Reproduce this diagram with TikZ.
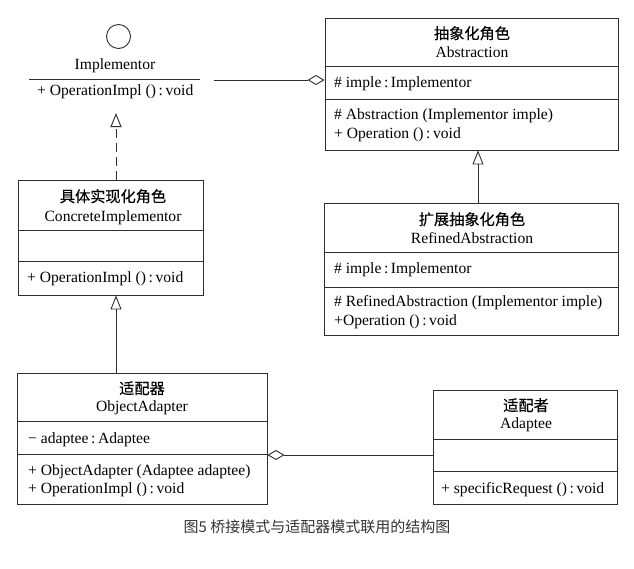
\documentclass[tikz,border=0pt]{standalone}
\usepackage{fontspec}
\setmainfont{Liberation Serif}
\newfontfamily\cjk[FakeBold=0.3]{Noto Sans CJK SC}
\newfontfamily\cjkcap{Noto Sans CJK SC}
\usetikzlibrary{positioning, arrows.meta}
\definecolor{uml-line}{rgb}{0.18, 0.18, 0.18}

\begin{document}
\begin{tikzpicture}[x=1pt, y=-1pt]
				\tikzset{cls/.style={rectangle, draw=uml-line, line width=0.9pt, inner sep=0pt}}
				\tikzset{lbl/.style={inner sep=0pt, text height=11pt, text depth=3pt, font=\fontsize{15.6}{18}\selectfont}}
				\tikzset{zh/.style={lbl, font=\fontsize{15.2}{18}\selectfont\cjk}}
				\tikzset{sep/.style={draw=uml-line, line width=0.9pt}}
				\tikzset{inherit/.style={-{Triangle[open, length=14pt, width=11pt]}, draw=uml-line, line width=0.9pt}}
				\tikzset{realize/.style={inherit, dash pattern=on 9pt off 5pt}}
				\tikzset{aggr/.style={-{Diamond[open, length=17pt, width=10pt]}, draw=uml-line, line width=0.9pt}}
				\useasboundingbox (0,0) rectangle (634,568);
				% interface
				\node[circle, draw=uml-line, line width=0.9pt, minimum size=24pt] (iface) at (118.5,36.5) {};
				\node[lbl] (implName) at (115,65) {Implementor};
				\coordinate (implLeft) at (29,79);
				\coordinate (implRight) at (200,79);
				\draw[sep] (implLeft) -- (implRight);
				\node[lbl, anchor=west] (implOp) at (37,91) {+ OperationImpl ()\,:\,void};
				% Abstraction
				\node[cls, minimum width=293pt, minimum height=132pt] (abstraction) at (471.5,84) {};
				\draw[sep] ([yshift=-49pt]abstraction.north west) -- ([yshift=-49pt]abstraction.north east);
				\draw[sep] ([yshift=-82pt]abstraction.north west) -- ([yshift=-82pt]abstraction.north east);
				\node[zh] (absZh) at (472,35) {抽象化角色};
				\node[lbl] (absEn) at (472,53) {Abstraction};
				\node[lbl, anchor=west] (absAttr) at (334,83) {\# imple\,:\,Implementor};
				\node[lbl, anchor=west] (absOp1) at (334,115) {\# Abstraction (Implementor imple)};
				\node[lbl, anchor=west] (absOp2) at (334,134) {+ Operation ()\,:\,void};
				% RefinedAbstraction
				\node[cls, minimum width=294pt, minimum height=132pt] (refined) at (471,269) {};
				\draw[sep] ([yshift=-50pt]refined.north west) -- ([yshift=-50pt]refined.north east);
				\draw[sep] ([yshift=-85pt]refined.north west) -- ([yshift=-85pt]refined.north east);
				\node[zh] (refZh) at (472,221) {扩展抽象化角色};
				\node[lbl] (refEn) at (472,239) {RefinedAbstraction};
				\node[lbl, anchor=west] (refAttr) at (334,269) {\# imple\,:\,Implementor};
				\node[lbl, anchor=west] (refOp1) at (334,302) {\# RefinedAbstraction (Implementor imple)};
				\node[lbl, anchor=west] (refOp2) at (334,321) {+Operation ()\,:\,void};
				% ConcreteImplementor
				\node[cls, minimum width=185pt, minimum height=115pt] (concrete) at (110.5,237.5) {};
				\draw[sep] ([yshift=-51pt]concrete.north west) -- ([yshift=-51pt]concrete.north east);
				\draw[sep] ([yshift=-82pt]concrete.north west) -- ([yshift=-82pt]concrete.north east);
				\node[zh] (ciZh) at (113,198) {具体实现化角色};
				\node[lbl] (ciEn) at (113,217) {ConcreteImplementor};
				\node[lbl, anchor=west] (ciOp) at (27,278) {+ OperationImpl ()\,:\,void};
				% ObjectAdapter
				\node[cls, minimum width=250pt, minimum height=131pt] (adapter) at (142,438.5) {};
				\draw[sep] ([yshift=-49pt]adapter.north west) -- ([yshift=-49pt]adapter.north east);
				\draw[sep] ([yshift=-82pt]adapter.north west) -- ([yshift=-82pt]adapter.north east);
				\node[zh] (oaZh) at (142,390) {适配器};
				\node[lbl] (oaEn) at (142,407) {ObjectAdapter};
				\node[lbl, anchor=west] (oaAttr) at (28,439) {− adaptee\,:\,Adaptee};
				\node[lbl, anchor=west] (oaOp1) at (28,471) {+ ObjectAdapter (Adaptee adaptee)};
				\node[lbl, anchor=west] (oaOp2) at (28,489) {+ OperationImpl ()\,:\,void};
				% Adaptee
				\node[cls, minimum width=184pt, minimum height=114pt] (adaptee) at (525,447) {};
				\draw[sep] ([yshift=-50pt]adaptee.north west) -- ([yshift=-50pt]adaptee.north east);
				\draw[sep] ([yshift=-82pt]adaptee.north west) -- ([yshift=-82pt]adaptee.north east);
				\node[zh] (adtZh) at (526,407) {适配者};
				\node[lbl] (adtEn) at (526,424) {Adaptee};
				\node[lbl, anchor=west] (adtOp) at (441,489) {+ specificRequest ()\,:\,void};
				% relations
				\coordinate (implTip) at (116,113);
				\draw[realize] (concrete.north -| implTip) -- (implTip);
				\coordinate (implEnd) at (214,80);
				\draw[aggr] (implEnd) -- (abstraction.west |- implEnd);
				\coordinate (refX) at (478,0);
				\draw[inherit] (refined.north -| refX) -- (abstraction.south -| refX);
				\coordinate (ciX) at (116,0);
				\draw[inherit] (adapter.north -| ciX) -- (concrete.south -| ciX);
				\coordinate (adtY) at (0,455);
				\draw[aggr] (adaptee.west |- adtY) -- (adapter.east |- adtY);
				\node[font=\fontsize{15}{18}\selectfont\cjkcap, text=black!80, inner sep=0pt] (caption) at (317,527) {图5 桥接模式与适配器模式联用的结构图};
			\end{tikzpicture}
\end{document}
